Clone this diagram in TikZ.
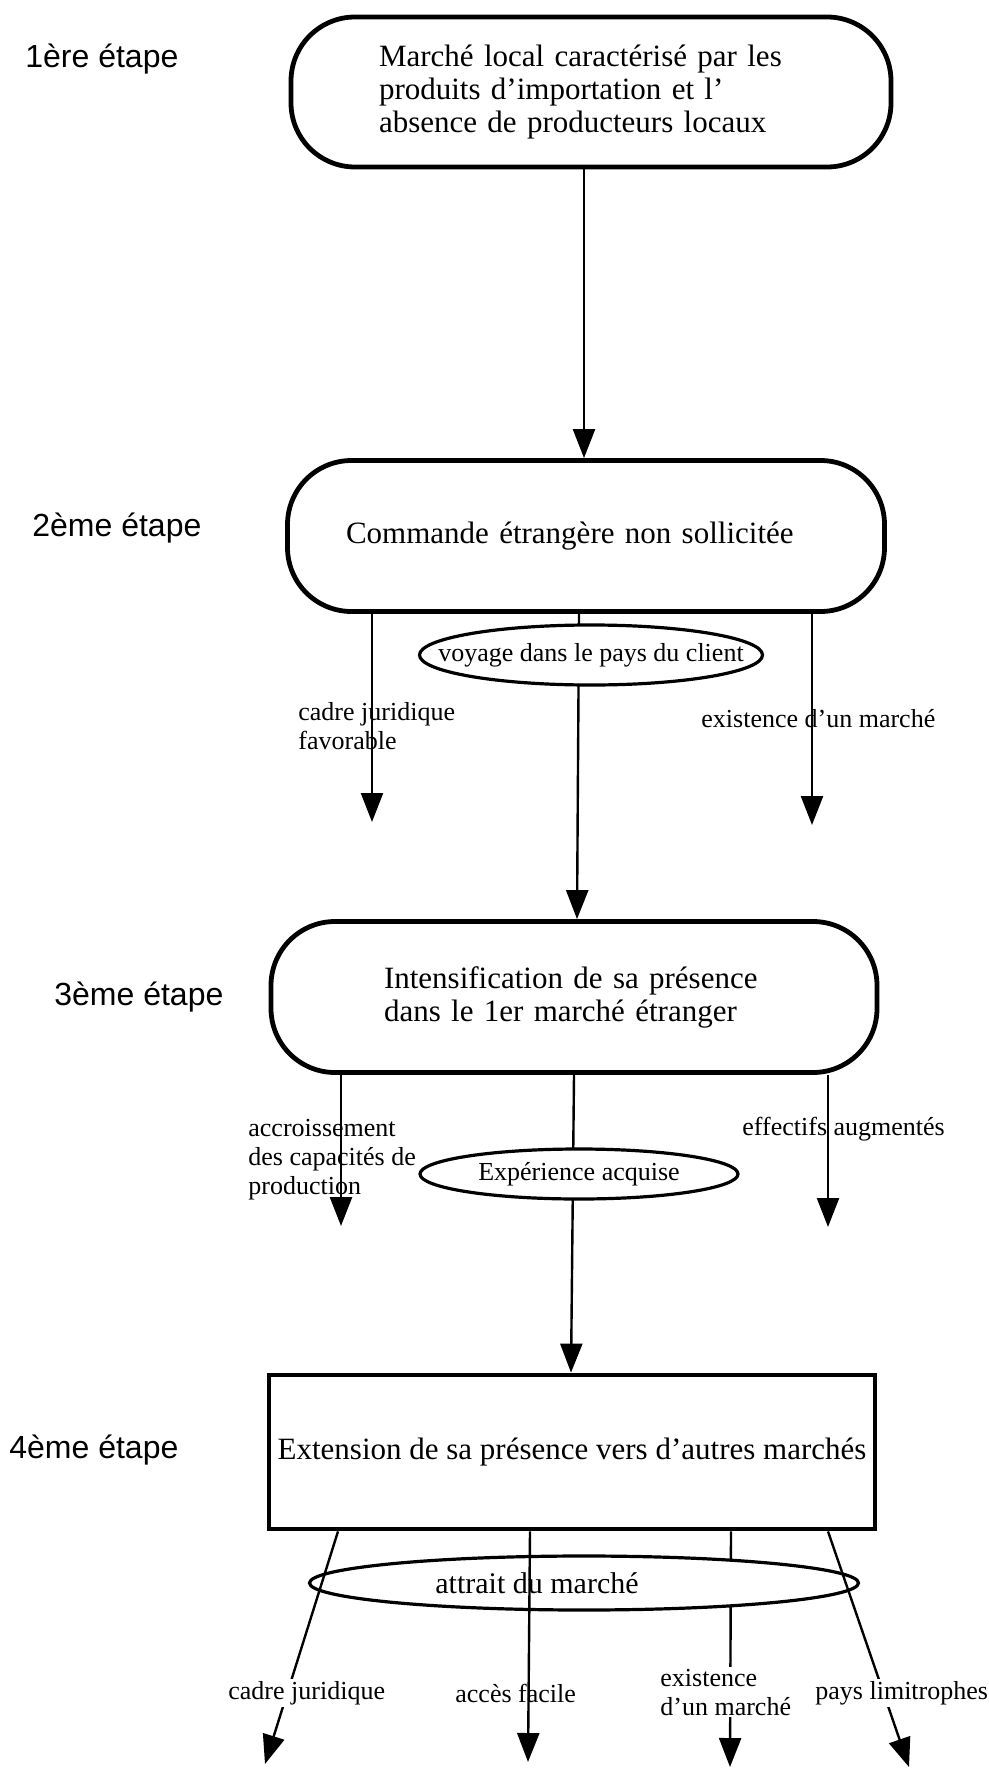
\documentclass[tikz,border=0pt]{standalone}
\usepackage{fontspec}
\setmainfont{Liberation Serif}
\setsansfont{Liberation Sans}
\usetikzlibrary{arrows.meta}
\usetikzlibrary{shapes}

\begin{document}
\begin{tikzpicture}[x = 0.5pt, y = -0.5pt]
	\tikzstyle{boxStyle} = [draw, line width = 2.4pt, rounded corners = 32pt, inner sep = 0pt, font = \fontsize{15.5}{16.5}\selectfont]
	\tikzstyle{ovalStyle} = [draw, ellipse, line width = 1.6pt, fill = white, inner sep = 0pt]
	\tikzstyle{ovalText} = [inner sep = 0pt, font = \fontsize{13}{15}\selectfont]
	\tikzstyle{stageStyle} = [anchor = west, inner sep = 0pt, font = \sffamily\fontsize{16}{19}\selectfont]
	\tikzstyle{labelStyle} = [anchor = west, align = left, inner sep = 1pt, font = \fontsize{13}{14.5}\selectfont]
	\tikzstyle{arrowStyle} = [line width = 1.2pt, -{Triangle[length = 14.5pt, width = 11pt]}]
	\useasboundingbox (0, 0) rectangle (989, 1771);
	\node[stageStyle] (s1) at (25, 59) {1ère étape};
	\node[stageStyle] (s2) at (32, 528) {2ème étape};
	\node[stageStyle] (s3) at (54, 997) {3ème étape};
	\node[stageStyle] (s4) at (9, 1450) {4ème étape};
	\node[boxStyle, minimum width = 300pt, minimum height = 75pt, text width = 212pt, align = left] (b1) at (591, 92) {Marché local caractérisé par les\\produits d'importation et l'\\absence de producteurs locaux};
	\node[boxStyle, minimum width = 298.5pt, minimum height = 75.5pt, text width = 240pt, align = left] (b2) at (586, 536) {Commande étrangère non sollicitée};
	\node[boxStyle, minimum width = 303pt, minimum height = 75.5pt, text width = 190pt, align = left] (b3) at (574, 997) {Intensification de sa présence\\dans le 1er marché étranger};
	\node[boxStyle, sharp corners, minimum width = 303pt, minimum height = 77pt] (b4) at (572, 1452) {Extension de sa présence vers d'autres marchés};
	\draw[arrowStyle] ([xshift = -3.5pt]b1.south) -- ([xshift = -1pt]b2.north);
	% 2eme etape
	\coordinate (t2l) at (372, 822);
	\coordinate (t2r) at (812, 825);
	\draw[arrowStyle] (b2.south -| t2l) -- (t2l);
	\draw[arrowStyle] (b2.south -| t2r) -- (t2r);
	\draw[arrowStyle] ([xshift = -3.5pt]b2.south) -- ([xshift = 1.5pt]b3.north);
	\node[ovalStyle, minimum width = 171.5pt, minimum height = 30pt, label = {[ovalText]center:voyage dans le pays du client}] (e2) at (591, 655) {};
	\node[labelStyle] (l2a) at (296, 726) {cadre juridique\\favorable};
	\node[labelStyle] (l2b) at (699, 719) {existence d'un marché};
	% 3eme etape
	\coordinate (t3l) at (341, 1226);
	\coordinate (t3r) at (828, 1227);
	\draw[arrowStyle] (b3.south -| t3l) -- (t3l);
	\draw[arrowStyle] (b3.south -| t3r) -- (t3r);
	\draw[arrowStyle] (b3.south) -- ([xshift = -0.5pt]b4.north);
	\node[ovalStyle, minimum width = 159pt, minimum height = 25pt, label = {[ovalText]center:Expérience acquise}] (e3) at (579, 1174) {};
	\node[labelStyle] (l3a) at (246, 1160) {accroissement\\des capacités de\\production};
	\node[labelStyle] (l3b) at (740, 1129) {effectifs augmentés};
	% 4eme etape
	\coordinate (t41) at (265, 1764);
	\coordinate (t42) at (528, 1762);
	\coordinate (t43) at (730, 1767);
	\coordinate (t44) at (909, 1767);
	\draw[arrowStyle] ([xshift = 79.5pt]b4.south) -- (t43);
	\node[ovalStyle, minimum width = 274.5pt, minimum height = 27pt, label = {[ovalText, xshift = -23.5pt, font = \fontsize{15}{17}\selectfont]center:attrait du marché}] (e4) at (584, 1583) {};
	\draw[arrowStyle] ([xshift = -117pt]b4.south) -- (t41);
	\draw[arrowStyle] ([xshift = -21pt]b4.south) -- (t42);
	\draw[arrowStyle] ([xshift = 128pt]b4.south) -- (t44);
	\node[labelStyle, fill = white] (l4a) at (226, 1693) {cadre juridique};
	\node[labelStyle] (l4b) at (453, 1693) {accès facile};
	\node[labelStyle, fill = white] (l4c) at (658, 1692) {existence\\d'un marché};
	\node[labelStyle, fill = white] (l4d) at (813, 1693) {pays limitrophes};
\end{tikzpicture}
\end{document}
